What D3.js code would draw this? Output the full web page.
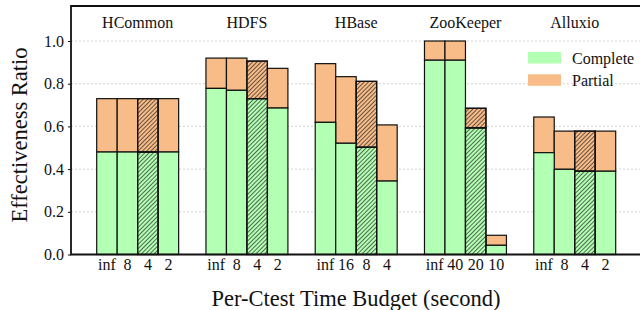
<!DOCTYPE html>
<html>
<head>
<meta charset="utf-8">
<script src="https://cdn.jsdelivr.net/npm/d3@7"></script>
<style>
  html, body { margin: 0; padding: 0; background: #fff; }
</style>
</head>
<body>
<svg id="chart" width="640" height="310"></svg>
<script>
// systems (groups) and per-ctest time budgets
const systems = ["HCommon", "HDFS", "HBase", "ZooKeeper", "Alluxio"];
const budgets = [
    ["inf", "8", "4", "2"],
    ["inf", "8", "4", "2"],
    ["inf", "16", "8", "4"],
    ["inf", "40", "20", "10"],
    ["inf", "8", "4", "2"]
];
// complete ratio and total (complete + partial) ratio
const complete = [
    [0.48, 0.48, 0.48, 0.48],
    [0.778, 0.769, 0.73, 0.686],
    [0.619, 0.521, 0.502, 0.344],
    [0.91, 0.91, 0.593, 0.043],
    [0.477, 0.399, 0.39, 0.39]
];
const total = [
    [0.73, 0.73, 0.73, 0.73],
    [0.92, 0.92, 0.906, 0.872],
    [0.894, 0.833, 0.811, 0.607],
    [1.0, 1.0, 0.685, 0.09],
    [0.644, 0.578, 0.578, 0.578]
];
const yTicks = [0, 0.2, 0.4, 0.6, 0.8, 1.0];
const hatchedIndex = 2;

const green = "#b3ffb3";
const orange = "#f8bc88";
const serif = "'Liberation Serif', 'Times New Roman', 'DejaVu Serif', serif";

const svg = d3.select("#chart")
    .attr("font-family", serif);
const mLeft = 71, mTop = 6, mBottom = 254.5;

const defs = svg.append("defs");
defs.append("pattern")
    .attr("id", "hatch")
    .attr("patternUnits", "userSpaceOnUse")
    .attr("width", 3)
    .attr("height", 3)
    .attr("patternTransform", "rotate(45)")
    .append("line")
    .attr("x1", 0).attr("y1", 0)
    .attr("x2", 0).attr("y2", 3)
    .attr("stroke", "#1a1a1a")
    .attr("stroke-width", 1.3);

const y = d3.scaleLinear().domain([0, 1.164]).range([mBottom, mTop]);

const x = d3.scaleBand()
    .domain(d3.range(systems.length))
    .range([96.7, 615.7])
    .paddingInner(0.25)
    .paddingOuter(0);

const xi = d3.scaleBand()
    .domain(d3.range(4))
    .range([0, x.bandwidth()]);

// grid
svg.append("g")
    .selectAll("line")
    .data(yTicks.filter(d => d > 0))
    .join("line")
    .attr("x1", mLeft).attr("x2", 640)
    .attr("y1", d => y(d)).attr("y2", d => y(d))
    .attr("stroke", "#c8c8c8")
    .attr("stroke-width", 0.8)
    .attr("stroke-dasharray", "2,2");

// bars
const bars = [];
systems.forEach((s, g) => {
    budgets[g].forEach((b, i) => {
        bars.push({g, i, c: complete[g][i], t: total[g][i]});
    });
});

const barG = svg.append("g");
const bx = d => x(d.g) + xi(d.i);

barG.selectAll("rect.partial")
    .data(bars)
    .join("rect")
    .attr("class", "partial")
    .attr("x", bx)
    .attr("width", xi.bandwidth())
    .attr("y", d => y(d.t))
    .attr("height", d => y(d.c) - y(d.t))
    .attr("fill", orange)
    .attr("stroke", "#111")
    .attr("stroke-width", 1.2);

barG.selectAll("rect.complete")
    .data(bars)
    .join("rect")
    .attr("class", "complete")
    .attr("x", bx)
    .attr("width", xi.bandwidth())
    .attr("y", d => y(d.c))
    .attr("height", d => y(0) - y(d.c))
    .attr("fill", green)
    .attr("stroke", "#111")
    .attr("stroke-width", 1.2);

barG.selectAll("rect.hatch")
    .data(bars.filter(d => d.i === hatchedIndex))
    .join("rect")
    .attr("class", "hatch")
    .attr("x", bx)
    .attr("width", xi.bandwidth())
    .attr("y", d => y(d.t))
    .attr("height", d => y(0) - y(d.t))
    .attr("fill", "url(#hatch)")
    .attr("stroke", "none");

// re-stroke hatched bar outlines on top
barG.selectAll("rect.hatchedge")
    .data(bars.filter(d => d.i === hatchedIndex).flatMap(d => [
        {x: bx(d), y0: d.c, y1: d.t}, {x: bx(d), y0: 0, y1: d.c}]))
    .join("rect")
    .attr("x", d => d.x)
    .attr("width", xi.bandwidth())
    .attr("y", d => y(d.y1))
    .attr("height", d => y(d.y0) - y(d.y1))
    .attr("fill", "none")
    .attr("stroke", "#111")
    .attr("stroke-width", 1.2);

// x tick labels
svg.append("g")
    .selectAll("text")
    .data(bars)
    .join("text")
    .attr("x", d => bx(d) + xi.bandwidth() / 2)
    .attr("y", 270)
    .attr("text-anchor", "middle")
    .attr("font-family", serif)
    .attr("font-size", 16)
    .attr("fill", "#111")
    .text(d => budgets[d.g][d.i]);

// group titles
svg.append("g")
    .selectAll("text")
    .data(systems)
    .join("text")
    .attr("x", (d, g) => x(g) + x.bandwidth() / 2)
    .attr("y", 28)
    .attr("text-anchor", "middle")
    .attr("font-family", serif)
    .attr("font-size", 16)
    .attr("fill", "#111")
    .text(d => d);

// y axis
const yAxis = d3.axisLeft(y)
    .tickValues(yTicks)
    .tickFormat(d3.format(".1f"))
    .tickSize(3)
    .tickPadding(4);
const ya = svg.append("g")
    .attr("transform", `translate(${mLeft},0)`)
    .call(yAxis)
    .attr("font-family", serif)
    .attr("font-size", 16);
ya.select(".domain").remove();
ya.selectAll("text").attr("fill", "#111");
ya.selectAll("line").attr("stroke", "#111");

// frame
svg.append("path")
    .attr("d", `M640,${mTop}H${mLeft}V${mBottom}H640`)
    .attr("fill", "none")
    .attr("stroke", "#111")
    .attr("stroke-width", 1.8);

// legend
const legend = svg.append("g");
[["Complete", green], ["Partial", orange]].forEach(([name, col], k) => {
    legend.append("rect")
        .attr("x", 528)
        .attr("y", 52 + k * 22.3)
        .attr("width", 33)
        .attr("height", 11.5)
        .attr("fill", col);
    legend.append("text")
        .attr("x", 572)
        .attr("y", 63.5 + k * 22.3)
        .attr("font-family", serif)
        .attr("font-size", 16)
        .attr("fill", "#111")
        .text(name);
});

// axis titles
svg.append("text")
    .attr("transform", "translate(27,135) rotate(-90)")
    .attr("text-anchor", "middle")
    .attr("font-family", serif)
    .attr("font-size", 22.5)
    .attr("fill", "#111")
    .text("Effectiveness Ratio");

svg.append("text")
    .attr("x", 356)
    .attr("y", 306)
    .attr("text-anchor", "middle")
    .attr("font-family", serif)
    .attr("font-size", 22.5)
    .attr("fill", "#111")
    .text("Per-Ctest Time Budget (second)");
</script>
</body>
</html>
